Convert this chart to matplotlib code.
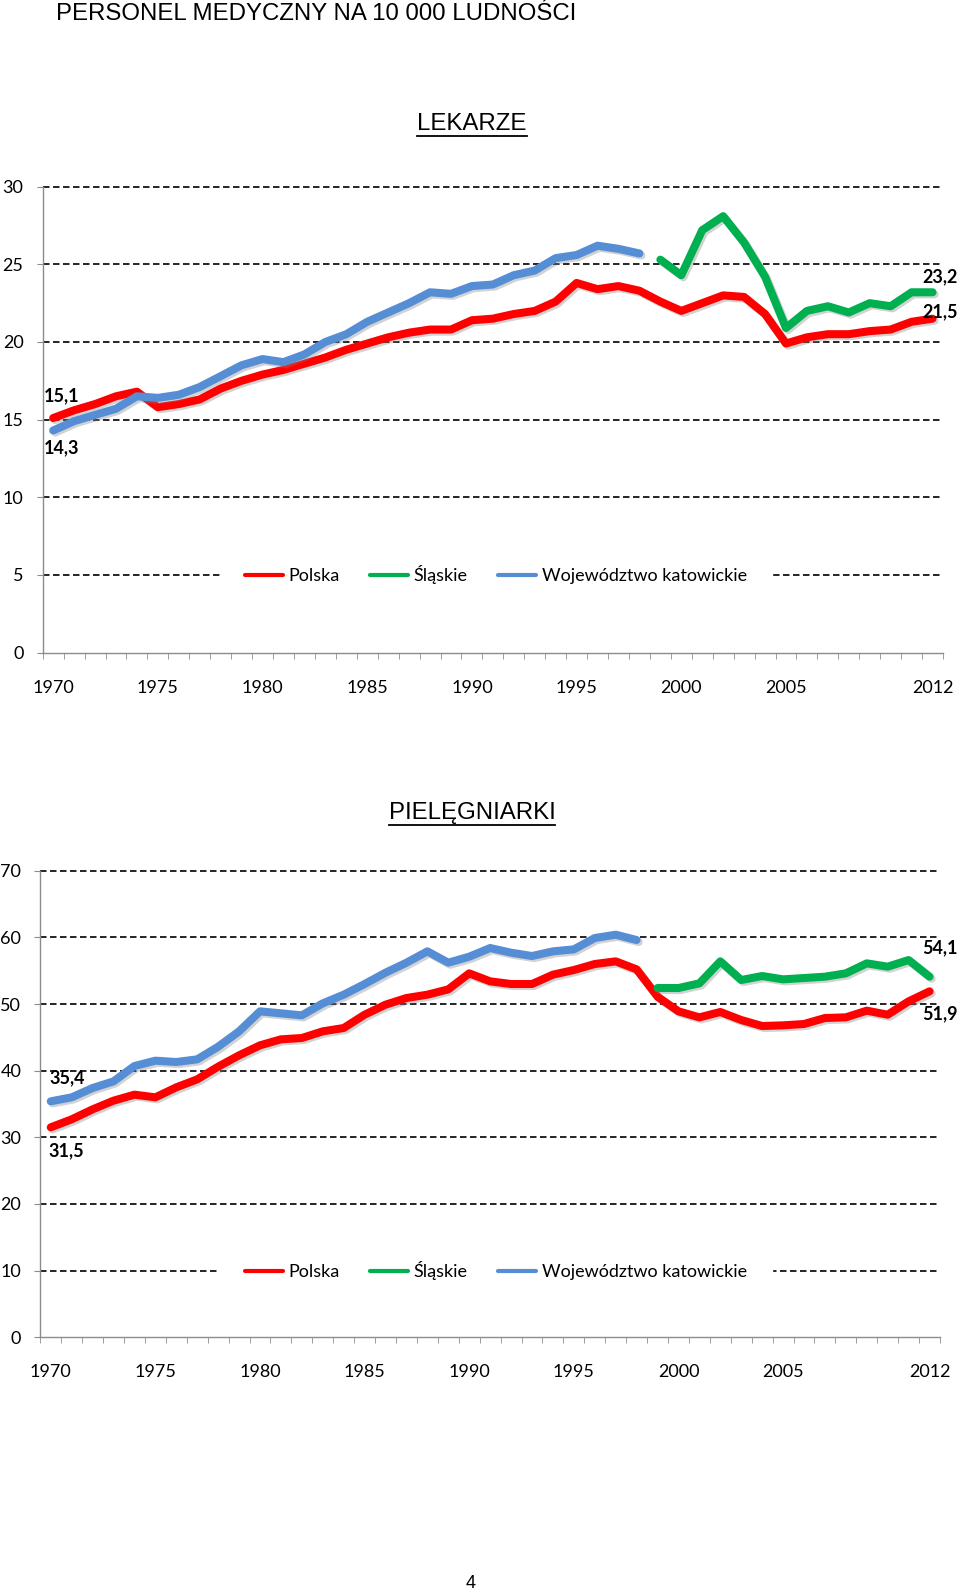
import matplotlib
matplotlib.use("Agg")
import matplotlib.pyplot as plt
import matplotlib.patheffects as pe
import numpy as np

years = list(range(1970, 2013))
year_labels = ["1970", "1975", "1980", "1985", "1990", "1995", "2000", "2005", "2012"]

# LEKARZE (doctors per 10 000)
lek_polska = [15.1, 15.6, 16.0, 16.5, 16.8, 15.8, 16.0, 16.3, 17.0, 17.5,
              17.9, 18.2, 18.6, 19.0, 19.5, 19.9, 20.3, 20.6, 20.8, 20.8,
              21.4, 21.5, 21.8, 22.0, 22.6, 23.8, 23.4, 23.6, 23.3, 22.6,
              22.0, 22.5, 23.0, 22.9, 21.8, 19.9, 20.3, 20.5, 20.5, 20.7,
              20.8, 21.3, 21.5]
lek_slaskie = [None] * 29 + [25.3, 24.3, 27.2, 28.1, 26.4, 24.2, 20.9, 22.0,
                             22.3, 21.9, 22.5, 22.3, 23.2, 23.2]
lek_katowickie = [14.3, 14.9, 15.3, 15.7, 16.5, 16.4, 16.6, 17.1, 17.8, 18.5,
                  18.9, 18.7, 19.2, 20.0, 20.5, 21.3, 21.9, 22.5, 23.2, 23.1,
                  23.6, 23.7, 24.3, 24.6, 25.4, 25.6, 26.2, 26.0, 25.7] + [None] * 14

# PIELĘGNIARKI (nurses per 10 000)
piel_polska = [31.5, 32.7, 34.2, 35.5, 36.4, 36.0, 37.5, 38.7, 40.6, 42.3,
               43.8, 44.7, 44.9, 45.9, 46.4, 48.4, 49.9, 50.9, 51.4, 52.2,
               54.6, 53.4, 53.0, 53.0, 54.4, 55.1, 56.0, 56.4, 55.2, 51.1,
               48.9, 48.0, 48.8, 47.6, 46.7, 46.8, 47.0, 47.9, 48.0, 49.0,
               48.4, 50.4, 51.9]
piel_slaskie = [None] * 29 + [52.4, 52.4, 53.1, 56.4, 53.6, 54.2, 53.7, 53.9,
                              54.1, 54.6, 56.1, 55.6, 56.6, 54.1]
piel_katowickie = [35.4, 36.0, 37.4, 38.4, 40.7, 41.5, 41.3, 41.7, 43.6, 45.9,
                   48.9, 48.6, 48.3, 50.1, 51.4, 53.0, 54.7, 56.2, 57.9, 56.2,
                   57.1, 58.4, 57.7, 57.2, 57.9, 58.2, 59.9, 60.4, 59.6] + [None] * 14

series_names = ["Polska", "Śląskie", "Województwo katowickie"]
colors = ["#FF0000", "#00B050", "#558ED5"]

W, H = 960, 1594
fig = plt.figure(figsize=(W / 100, H / 100), dpi=100)

FONT = "Lato"
TICK_FS = 13


def to_arr(v):
    return np.array([np.nan if x is None else x for x in v], dtype=float)


def draw_panel(rect, ylim, ystep, data, labels):
    ax = fig.add_axes(rect)
    x = np.arange(len(years))
    ax.set_xlim(-0.5, len(years) - 0.5)
    ax.set_ylim(*ylim)
    yt = np.arange(ylim[0], ylim[1] + 0.1, ystep)
    for v in yt[1:]:
        ax.axhline(v, color="black", lw=1.2, linestyle=(0, (3.9, 2.1)), zorder=1,
                   clip_on=False)
    for s, c, name in zip(data, colors, series_names):
        ax.plot(x, to_arr(s), color=c, lw=5.8, solid_capstyle="round",
                solid_joinstyle="round", label=name, zorder=3,
                path_effects=[pe.SimpleLineShadow(offset=(1.5, -1.5), shadow_color="gray", alpha=0.35),
                              pe.Normal()])
    for sp in ["top", "right"]:
        ax.spines[sp].set_visible(False)
    for sp in ["left", "bottom"]:
        ax.spines[sp].set_color("#8C8C8C")
        ax.spines[sp].set_linewidth(1.0)
        ax.spines[sp].set_zorder(4)
    ax.set_yticks(yt)
    ax.set_yticklabels([str(int(v)) for v in yt], fontfamily=FONT, fontsize=TICK_FS)
    ax.tick_params(axis="y", length=4.3, color="#8C8C8C", pad=9.5)
    pos = [years.index(int(l)) for l in year_labels]
    ax.set_xticks(pos)
    ax.set_xticklabels(year_labels, fontfamily=FONT, fontsize=TICK_FS)
    ax.set_xticks(np.arange(-0.5, len(years)), minor=True)
    ax.tick_params(axis="x", which="major", length=0, pad=19.5)
    ax.tick_params(axis="x", which="minor", length=4.3, color="#8C8C8C")
    ax.set_facecolor("none")
    for (txt, xi, val, dx, dy) in labels:
        ax.annotate(txt, (xi, val), xytext=(dx, dy), textcoords="offset pixels",
                    ha="center", va="center", fontfamily=FONT, fontweight="bold",
                    fontsize=TICK_FS, color="black", zorder=6, annotation_clip=False)
    return ax


def add_legend(ax, cx_px, yval):
    ax_bbox = ax.get_position()
    x0 = ax_bbox.x0 * W
    x1 = ax_bbox.x1 * W
    fx = (cx_px - x0) / (x1 - x0)
    ylo, yhi = ax.get_ylim()
    fy = (yval - ylo) / (yhi - ylo)
    handles = ax.get_lines()[-3:]
    leg = ax.legend(handles, series_names, loc="center", bbox_to_anchor=(fx, fy),
                    ncol=3, frameon=True, fancybox=False, framealpha=1,
                    edgecolor="white", handlelength=2.1, handletextpad=0.3,
                    columnspacing=1.7, borderpad=1.4,
                    prop={"family": FONT, "size": TICK_FS})
    for l in leg.get_lines():
        l.set_linewidth(3)
        l.set_path_effects([])
    leg.set_zorder(5)


# Top panel: LEKARZE
top_rect = [42.7 / W, 1 - 652.5 / H, (943 - 42.7) / W, (652.5 - 186.7) / H]
ax1 = draw_panel(top_rect, (0, 30), 5,
                 [lek_polska, lek_slaskie, lek_katowickie],
                 [("15,1", 0, lek_polska[0], 8, 22),
                  ("14,3", 0, lek_katowickie[0], 8, -17),
                  ("23,2", 42, lek_slaskie[-1], 8, 16),
                  ("21,5", 42, lek_polska[-1], 8, 7)])
add_legend(ax1, 496, 5)

# Bottom panel: PIELĘGNIARKI
bot_rect = [40.3 / W, 1 - 1337.3 / H, (940 - 40.3) / W, (1337.3 - 870.7) / H]
ax2 = draw_panel(bot_rect, (0, 70), 10,
                 [piel_polska, piel_slaskie, piel_katowickie],
                 [("35,4", 0, piel_katowickie[0], 16, 24),
                  ("31,5", 0, piel_polska[0], 16, -23),
                  ("54,1", 42, piel_slaskie[-1], 10, 29),
                  ("51,9", 42, piel_polska[-1], 10, -22)])
add_legend(ax2, 496, 10)

# Titles
fig.text(56 / W, 1 - 14 / H, "PERSONEL MEDYCZNY NA 10 000 LUDNOŚCI", ha="left",
         va="center", fontfamily="Liberation Sans", fontsize=17.3)
subtitles = []
subtitles.append(fig.text(472 / W, 1 - 124 / H, "LEKARZE", ha="center", va="center",
                          fontfamily="Liberation Sans", fontsize=17.3))
subtitles.append(fig.text(472 / W, 1 - 813 / H, "PIELĘGNIARKI", ha="center", va="center",
                          fontfamily="Liberation Sans", fontsize=17.3))
fig.text(471 / W, 1 - 1583 / H, "4", ha="center", va="center",
         fontfamily="Liberation Sans", fontsize=13)

# underline subtitles
fig.canvas.draw()
r = fig.canvas.get_renderer()
for t in subtitles:
    bb = t.get_window_extent(renderer=r)
    y = bb.y0 - 1
    fig.add_artist(plt.Line2D([bb.x0 / W, bb.x1 / W], [y / H, y / H],
                              transform=fig.transFigure, color="black", lw=1.3))

fig.savefig("out.png", dpi=100)
